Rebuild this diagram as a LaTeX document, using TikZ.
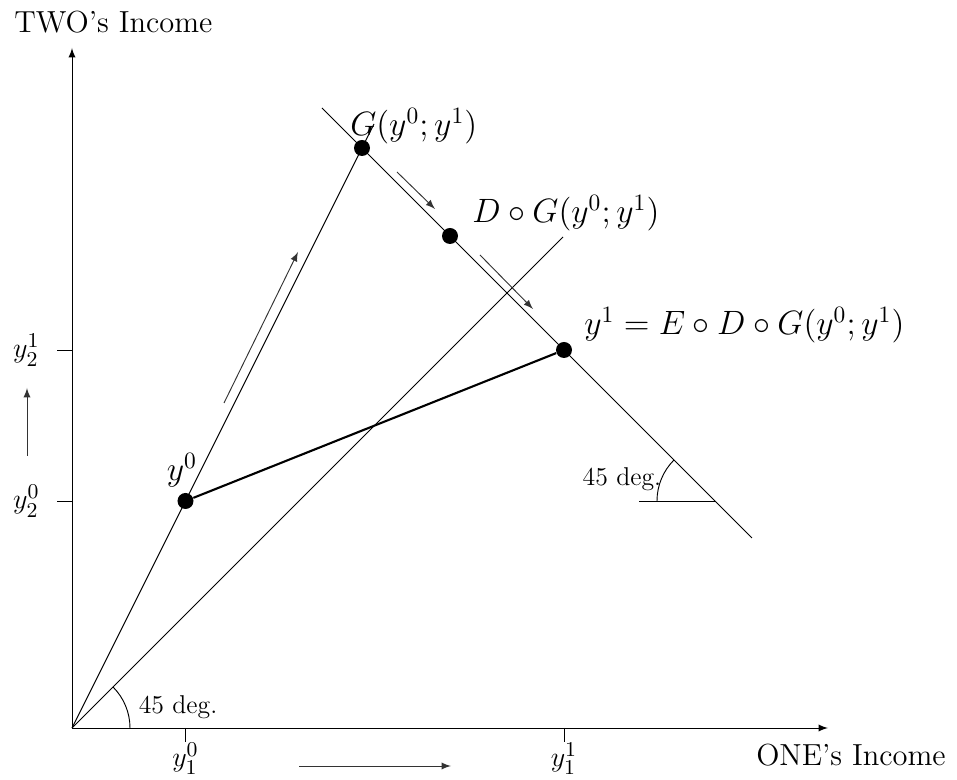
\documentclass[tikz,border=0pt]{standalone}
\usepackage{amsmath}
\usepackage{amssymb}
\begin{document}
\begin{tikzpicture}[x=0.015cm, y=0.015cm, >=latex,
        dot/.style={circle, fill, inner sep=0pt, minimum size=0.24cm},
        guide/.style={->, black!80},
        mlabel/.style={font=\fontsize{14}{16}\selectfont},
        ticklabel/.style={font=\fontsize{13}{15}\selectfont, inner sep=0pt},
        axlabel/.style={font=\fontsize{13}{15}\selectfont},
        anglabel/.style={font=\fontsize{11}{13}\selectfont, inner sep=1pt}]
        \useasboundingbox (-72, -52) rectangle (885, 728);

        % axes
        \coordinate (O) at (0, 0);
        \coordinate (xend) at (756, 0);
        \coordinate (yend) at (0, 680);
        \draw[->] (O) -- (xend);
        \draw[->] (O) -- (yend);
        \node[anchor=west, axlabel] (two) at (-66, 706) {TWO's Income};
        \node[anchor=east, axlabel] (one) at (882, -27) {ONE's Income};

        % points
        \node[dot] (y0) at (113.5, 227) {};
        \node[dot] (G) at (290, 580) {};
        \node[dot] (DG) at (378, 492) {};
        \node[dot] (y1) at (492, 378) {};

        % lines
        \coordinate (rayend) at (302, 604);
        \coordinate (diagend) at (491, 491);
        \coordinate (budA) at (250, 620);
        \coordinate (budB) at (680, 190);
        \draw (O) -- (rayend);
        \draw (O) -- (diagend);
        \draw (budA) -- (budB);
        \draw[line width=0.9pt] (y0) -- (y1);

        % angles
        \draw (58, 0) arc (0:45:58);
        \node[anchor=south west, anglabel] (angA) at (64, 6) {45 deg.};
        \coordinate (hA) at (567, 227);
        \coordinate (hB) at (643, 227);
        \draw (hA) -- (hB);
        \draw (585, 227) arc (180:135:58);
        \node[anchor=south east, anglabel] (angB) at (592, 234) {45 deg.};

        % ticks
        \draw (113.5, 0) -- (113.5, -14);
        \draw (492, 0) -- (492, -14);
        \draw (0, 227) -- (-15, 227);
        \draw (0, 378) -- (-15, 378);
        \node[anchor=north, ticklabel] at (113.5, -14) {$y_1^0$};
        \node[anchor=north, ticklabel] at (492, -14) {$y_1^1$};
        \node[anchor=east, ticklabel] at (-32, 227) {$y_2^0$};
        \node[anchor=east, ticklabel] at (-32, 378) {$y_2^1$};

        % labels
        \node[anchor=south, inner sep=1pt, mlabel] at (110, 238) {$y^0$};
        \node[anchor=west, mlabel] at (270, 602) {$G(y^0; y^1)$};
        \node[anchor=west, mlabel] at (392, 515) {$D\circ G(y^0; y^1)$};
        \node[anchor=west, mlabel] at (504, 403) {$y^1 = E\circ D\circ G(y^0; y^1)$};

        % movement arrows
        \draw[guide] (152, 325) -- (226, 476);
        \draw[guide] (325, 556) -- (363, 519);
        \draw[guide] (408, 473) -- (461, 419);
        \draw[guide] (-45, 272) -- (-45, 340);
        \draw[guide] (227, -38) -- (379, -38);
    \end{tikzpicture}
\end{document}
